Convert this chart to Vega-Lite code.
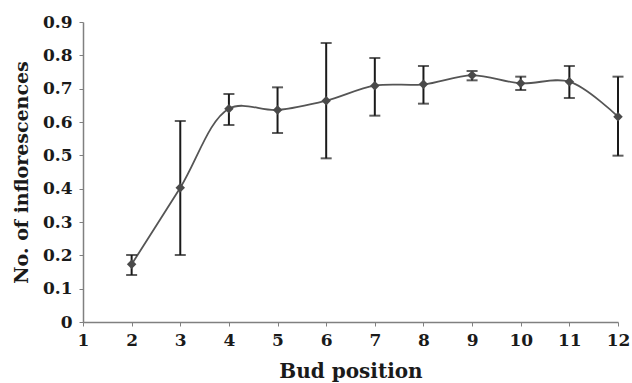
{
  "$schema": "https://vega.github.io/schema/vega-lite/v6.json",
  "width": 535,
  "height": 300,
  "autosize": "none",
  "padding": {"left": 83, "top": 22, "right": 14, "bottom": 61},
  "background": "white",
  "config": {
    "view": {"stroke": null},
    "font": "DejaVu Serif",
    "axis": {
      "grid": false,
      "domainColor": "#808080",
      "domainWidth": 1.5,
      "tickColor": "#808080",
      "tickWidth": 1,
      "tickSize": 4,
      "labelFont": "DejaVu Serif",
      "labelFontSize": 17,
      "labelFontWeight": "bold",
      "labelColor": "#1a1a1a",
      "titleFont": "DejaVu Serif",
      "titleFontSize": 20,
      "titleFontWeight": "bold",
      "titleColor": "#1a1a1a",
      "labelFlush": false,
      "labelOverlap": false
    }
  },
  "data": {
    "values": [
      {"pos": 2, "mean": 0.173, "lo": 0.141, "hi": 0.201},
      {"pos": 3, "mean": 0.403, "lo": 0.201, "hi": 0.603},
      {"pos": 4, "mean": 0.640, "lo": 0.591, "hi": 0.684},
      {"pos": 5, "mean": 0.636, "lo": 0.567, "hi": 0.704},
      {"pos": 6, "mean": 0.664, "lo": 0.491, "hi": 0.837},
      {"pos": 7, "mean": 0.709, "lo": 0.619, "hi": 0.792},
      {"pos": 8, "mean": 0.713, "lo": 0.655, "hi": 0.768},
      {"pos": 9, "mean": 0.740, "lo": 0.725, "hi": 0.753},
      {"pos": 10, "mean": 0.716, "lo": 0.696, "hi": 0.736},
      {"pos": 11, "mean": 0.721, "lo": 0.672, "hi": 0.768},
      {"pos": 12, "mean": 0.616, "lo": 0.499, "hi": 0.736}
    ]
  },
  "encoding": {
    "x": {
      "field": "pos",
      "type": "quantitative",
      "scale": {"domain": [1, 12], "nice": false, "zero": false},
      "axis": {
        "title": "Bud position",
        "values": [1, 2, 3, 4, 5, 6, 7, 8, 9, 10, 11, 12],
        "format": "d",
        "labelPadding": 6,
        "titlePadding": 13
      }
    }
  },
  "layer": [
    {
      "mark": {"type": "line", "interpolate": "catmull-rom", "color": "#555555", "strokeWidth": 1.8},
      "encoding": {
        "y": {
          "field": "mean",
          "type": "quantitative",
          "scale": {"domain": [0, 0.9], "nice": false},
          "axis": {
            "title": "No. of inflorescences",
            "titleFontSize": 19,
            "values": [0, 0.1, 0.2, 0.3, 0.4, 0.5, 0.6, 0.7, 0.8, 0.9],
            "format": ".1~f",
            "labelPadding": 7,
            "titlePadding": 11
          }
        }
      }
    },
    {
      "mark": {"type": "rule", "color": "#1a1a1a", "strokeWidth": 2},
      "encoding": {
        "y": {
          "field": "lo",
          "type": "quantitative",
          "axis": {
            "title": "No. of inflorescences",
            "titleFontSize": 19,
            "values": [0, 0.1, 0.2, 0.3, 0.4, 0.5, 0.6, 0.7, 0.8, 0.9],
            "format": ".1~f",
            "labelPadding": 7,
            "titlePadding": 11
          }
        },
        "y2": {"field": "hi"}
      }
    },
    {
      "mark": {"type": "tick", "orient": "horizontal", "color": "#1a1a1a", "size": 11, "thickness": 2},
      "encoding": {
        "y": {
          "field": "lo",
          "type": "quantitative",
          "axis": {
            "title": "No. of inflorescences",
            "titleFontSize": 19,
            "values": [0, 0.1, 0.2, 0.3, 0.4, 0.5, 0.6, 0.7, 0.8, 0.9],
            "format": ".1~f",
            "labelPadding": 7,
            "titlePadding": 11
          }
        }
      }
    },
    {
      "mark": {"type": "tick", "orient": "horizontal", "color": "#1a1a1a", "size": 11, "thickness": 2},
      "encoding": {
        "y": {
          "field": "hi",
          "type": "quantitative",
          "axis": {
            "title": "No. of inflorescences",
            "titleFontSize": 19,
            "values": [0, 0.1, 0.2, 0.3, 0.4, 0.5, 0.6, 0.7, 0.8, 0.9],
            "format": ".1~f",
            "labelPadding": 7,
            "titlePadding": 11
          }
        }
      }
    },
    {
      "mark": {"type": "point", "shape": "diamond", "filled": true, "opacity": 1, "color": "#4a4a4a", "size": 90},
      "encoding": {
        "y": {
          "field": "mean",
          "type": "quantitative",
          "axis": {
            "title": "No. of inflorescences",
            "titleFontSize": 19,
            "values": [0, 0.1, 0.2, 0.3, 0.4, 0.5, 0.6, 0.7, 0.8, 0.9],
            "format": ".1~f",
            "labelPadding": 7,
            "titlePadding": 11
          }
        }
      }
    }
  ]
}
